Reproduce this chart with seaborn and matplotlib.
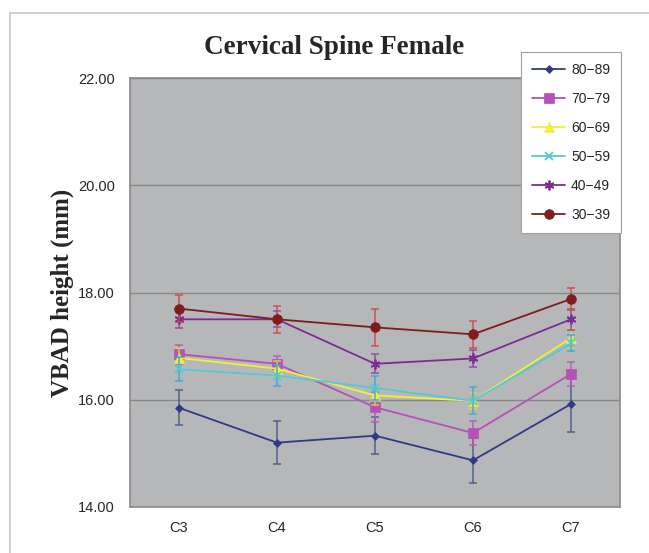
import matplotlib
matplotlib.use("Agg")
import matplotlib.pyplot as plt
import seaborn as sns
import pandas as pd
from matplotlib.patches import Rectangle

categories = ["C3", "C4", "C5", "C6", "C7"]
groups = ["80-89", "70-79", "60-69", "50-59", "40-49", "30-39"]
legend_labels = ["80\u221289", "70\u221279", "60\u221269", "50\u221259", "40\u221249", "30\u221239"]

v_80_89 = [15.85, 15.20, 15.33, 14.87, 15.92]
v_70_79 = [16.85, 16.67, 15.86, 15.38, 16.48]
v_60_69 = [16.78, 16.58, 16.08, 15.98, 17.15]
v_50_59 = [16.57, 16.45, 16.22, 15.98, 17.05]
v_40_49 = [17.50, 17.50, 16.67, 16.77, 17.50]
v_30_39 = [17.70, 17.50, 17.35, 17.22, 17.88]

e_80_89 = [0.33, 0.40, 0.35, 0.42, 0.52]
e_70_79 = [0.18, 0.15, 0.28, 0.22, 0.22]
e_60_69 = [0.18, 0.15, 0.18, 0.15, 0.18]
e_50_59 = [0.22, 0.20, 0.22, 0.25, 0.15]
e_40_49 = [0.17, 0.15, 0.18, 0.15, 0.20]
e_30_39 = [0.25, 0.25, 0.35, 0.25, 0.20]

values = [v_80_89, v_70_79, v_60_69, v_50_59, v_40_49, v_30_39]
errors = [e_80_89, e_70_79, e_60_69, e_50_59, e_40_49, e_30_39]

colors = ["#2F3B86", "#B552B5", "#EFEF3C", "#55C8D6", "#7D2C95", "#7E1C1E"]
err_colors = ["#4A5A8A", "#B85AB8", "#E0D040", "#3AA8D8", "#8A4AA8", "#D04848"]
markers = ["D", "s", "^", "x", (6, 2, 0), "o"]
msizes = [4, 7, 7, 6, 7, 7]

rows = []
for g, vals in zip(groups, values):
    for c, v in zip(categories, vals):
        rows.append({"Level": c, "Height": v, "Group": g})
df = pd.DataFrame(rows)

sns.set_style("white")
fig = plt.figure(figsize=(6.49, 5.53), dpi=100)
ax = fig.add_axes([130 / 649, 1 - 507 / 553, 490 / 649, 429 / 553])
ax.set_facecolor("#B6B7B9")

# outer frame
fig.patches.append(Rectangle((10 / 649, -0.1), 1.2, 1 - 13 / 553 + 0.1,
                             transform=fig.transFigure, fill=False,
                             edgecolor="#C8C8C8", linewidth=1.2, zorder=0))

for i, g in enumerate(groups):
    sub = df[df["Group"] == g]
    thin = markers[i] == "x" or isinstance(markers[i], tuple)
    sns.lineplot(data=sub, x="Level", y="Height", ax=ax, color=colors[i],
                 marker=markers[i], markersize=msizes[i], linewidth=1.3,
                 markeredgecolor=colors[i], markeredgewidth=1.3 if thin else 0.5,
                 label=legend_labels[i], zorder=3 + i, sort=False)
    ax.errorbar(range(len(categories)), values[i], yerr=errors[i], fmt="none",
                ecolor=err_colors[i], elinewidth=1.2, capsize=3, capthick=1.2,
                alpha=0.85, zorder=2 + i)

ax.set_xlim(-0.5, 4.5)
ax.set_ylim(14, 22)
ax.set_yticks([14, 16, 18, 20, 22])
ax.set_yticklabels(["%.2f" % t for t in [14, 16, 18, 20, 22]])
ax.grid(axis="y", color="#888888", linewidth=1.0)
ax.grid(axis="x", visible=False)
ax.set_axisbelow(True)
for s in ax.spines.values():
    s.set_color("#8A8A8A")
    s.set_linewidth(1.2)

ax.tick_params(axis="both", length=0, labelsize=10.5)
ax.tick_params(axis="y", pad=11)
ax.tick_params(axis="x", pad=10)
for lab in ax.get_xticklabels() + ax.get_yticklabels():
    lab.set_fontfamily("Liberation Sans")

ax.set_xlabel("")
ax.set_ylabel("VBAD height (mm)", fontsize=18, fontweight="bold",
              fontfamily="Liberation Serif", labelpad=3)

fig.text(334 / 649, 1 - 48 / 553, "Cervical Spine Female", ha="center", va="center",
         fontsize=19.5, fontweight="bold", fontfamily="Liberation Serif")

leg = ax.legend(loc="upper left", bbox_to_anchor=(521 / 649, 1 - 52 / 553),
                bbox_transform=fig.transFigure, frameon=True, fancybox=False,
                edgecolor="#A0A0A0", framealpha=1, facecolor="white",
                prop={"family": "Liberation Sans", "size": 10},
                labelspacing=1.08, borderpad=0.8, handlelength=2.4,
                handletextpad=0.4, borderaxespad=0)
leg.get_frame().set_linewidth(0.8)
leg.set_zorder(20)

fig.savefig("out.png", dpi=100)
